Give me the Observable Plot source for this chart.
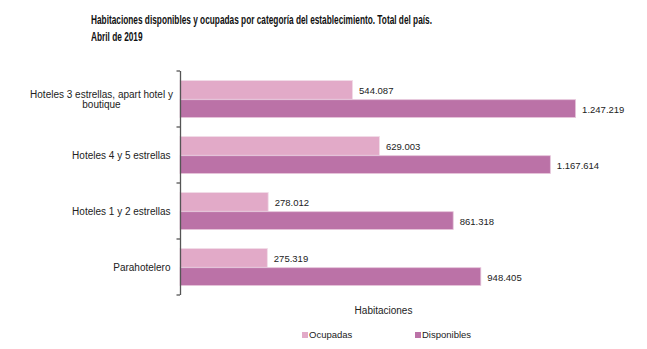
<!DOCTYPE html>
<html><head><meta charset="utf-8">
<script src="https://cdn.jsdelivr.net/npm/d3@7"></script>
<script src="https://cdn.jsdelivr.net/npm/@observablehq/plot@0.6"></script>
<style>
body{margin:0;background:#fff;font-family:"Liberation Sans",Arial,sans-serif;width:647px;height:349px;overflow:hidden;}
#title{height:50px;box-sizing:border-box;padding:12px 0 0 91px;font-family:"Liberation Sans",Arial,sans-serif;font-weight:bold;font-size:12.5px;line-height:17px;color:#111;}
#title span{display:inline-block;white-space:nowrap;transform-origin:0 50%;}
#legend{position:relative;height:24px;font-size:9.5px;color:#222;}
#legend .item{position:absolute;top:4px;display:flex;align-items:center;}
#legend .sw{width:6px;height:6px;margin-right:1px;display:inline-block;}
</style></head><body>
<div id="title"><div><span id="t1">Habitaciones disponibles y ocupadas por categoría del establecimiento. Total del país.</span></div><div><span id="t2">Abril de 2019</span></div></div>
<div id="chart"></div>
<div id="legend"></div>
<script>
const categories = ["Hoteles 3 estrellas, apart hotel y\nboutique", "Hoteles 4 y 5 estrellas", "Hoteles 1 y 2 estrellas", "Parahotelero"];
const series = ["Ocupadas", "Disponibles"];
const ocupadas = [544087, 629003, 278012, 275319];
const disponibles = [1247219, 1167614, 861318, 948405];
const colors = ["#e2aac8", "#bb72a7"];
const xLabel = "Habitaciones";

// condensed title: squeeze to reference width
const t1 = document.getElementById("t1"), t2 = document.getElementById("t2");
const sx = 341 / t1.getBoundingClientRect().width;
t1.style.transform = `scaleX(${sx})`;
t2.style.transform = `scaleX(${sx})`;

const fmt = d3.formatLocale({decimal: ",", thousands: ".", grouping: [3]}).format(",d");
const occ = categories.map((c, i) => ({cat: c, serie: series[0], value: ocupadas[i]}));
const disp = categories.map((c, i) => ({cat: c, serie: series[1], value: disponibles[i]}));

const mT = 21, mB = 30, H = 275;
const bw = (H - mT - mB) / categories.length;

const boundaryTicks = (index, scales, values, dimensions) => {
  const g = d3.create("svg:g");
  const x0 = scales.x(0);
  const ys = categories.map(c => scales.y(c));
  ys.push(ys[ys.length - 1] + bw);
  for (const y of ys) {
    g.append("line").attr("x1", x0 - 3.5).attr("x2", x0).attr("y1", y).attr("y2", y)
      .attr("stroke", "#555").attr("stroke-width", 1.3);
  }
  return g.node();
};

const chart = Plot.plot({
  width: 647, height: H,
  marginLeft: 180, marginRight: 61, marginTop: mT, marginBottom: mB,
  style: {fontFamily: "'Liberation Sans', Arial, sans-serif", fontSize: "10px", color: "#222", background: "#fff"},
  x: {domain: [0, 1280000], axis: null},
  y: {domain: categories, padding: 0, axis: null, label: null},
  marks: [
    Plot.barX(occ, {x: "value", y: "cat", fill: colors[0], stroke: "#f2dce8", strokeWidth: 0.8, insetTop: 9.5, insetBottom: 27.7}),
    Plot.barX(disp, {x: "value", y: "cat", fill: colors[1], stroke: "#e6c6da", strokeWidth: 0.8, insetTop: 28.7, insetBottom: 9.5}),
    Plot.text(occ, {x: "value", y: "cat", text: d => fmt(d.value), dx: 6, dy: -9, textAnchor: "start", fontSize: 9.5, fill: "#222"}),
    Plot.text(disp, {x: "value", y: "cat", text: d => fmt(d.value), dx: 6, dy: 10, textAnchor: "start", fontSize: 9.5, fill: "#222"}),
    Plot.ruleX([0], {stroke: "#555", strokeWidth: 1.3}),
    boundaryTicks,
    Plot.axisY(categories.slice(1), {tickSize: 0, tickPadding: 10, textAnchor: "end", fontSize: 10, fill: "#222", label: null}),
    Plot.text(categories.slice(0, 1), {y: d => d, frameAnchor: "left", textAnchor: "middle", dx: -79, fontSize: 10, fill: "#222"}),
    Plot.text([xLabel], {frameAnchor: "bottom", dy: 18, fontSize: 10, fill: "#222"})
  ]
});
document.getElementById("chart").appendChild(chart);

const legend = document.getElementById("legend");
const lx = [302, 415];
series.forEach((s, i) => {
  const it = document.createElement("div");
  it.className = "item";
  it.style.left = lx[i] + "px";
  it.innerHTML = `<span class="sw" style="background:${colors[i]}"></span><span>${s}</span>`;
  legend.appendChild(it);
});
</script>
</body></html>
